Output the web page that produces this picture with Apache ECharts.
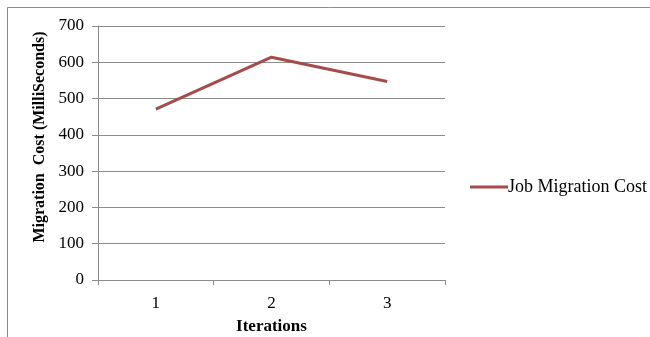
<!DOCTYPE html>
<html><head><meta charset="utf-8">
<script src="https://cdn.jsdelivr.net/npm/echarts@6/dist/echarts.min.js"></script>
<style>html,body{margin:0;padding:0;background:#fff}#c{width:650px;height:337px}</style>
</head><body><div id="c"></div>
<script>
const categories = ['1', '2', '3'];
const seriesName = 'Job Migration Cost';
const values = [471, 614, 547];
const yTicks = [0, 100, 200, 300, 400, 500, 600, 700];

const chart = echarts.init(document.getElementById('c'), null, {renderer: 'canvas'});
const font = 'Liberation Serif';
chart.setOption({
  animation: false,
  backgroundColor: '#fff',
  graphic: [{type: 'rect', shape: {x: 7.5, y: 7.5, width: 700, height: 400}, style: {fill: 'none', stroke: '#8c8c8c', lineWidth: 1}, silent: true}],
  grid: {left: 98, top: 26, width: 347, height: 254, containLabel: false, outerBoundsMode: 'none'},
  legend: {
    data: [seriesName], left: 465, top: 173, icon: 'rect', itemWidth: 38, itemHeight: 3, itemGap: 0,
    textStyle: {fontFamily: font, fontSize: 18, color: '#000', padding: [0, 0, 0, -5]}
  },
  xAxis: {
    type: 'category', data: categories, boundaryGap: true,
    axisLine: {lineStyle: {color: '#8c8c8c'}},
    axisTick: {show: true, length: 5, lineStyle: {color: '#8c8c8c'}},
    axisLabel: {fontFamily: font, fontSize: 17, color: '#000', margin: 15},
    name: 'Iterations', nameLocation: 'middle', nameGap: 38,
    nameTextStyle: {fontFamily: font, fontSize: 17, fontWeight: 'bold', color: '#000'}
  },
  yAxis: {
    type: 'value', min: yTicks[0], max: yTicks[yTicks.length - 1], interval: 100,
    axisLine: {show: true, lineStyle: {color: '#8c8c8c'}},
    axisTick: {show: true, length: 6, lineStyle: {color: '#8c8c8c'}},
    splitLine: {lineStyle: {color: '#8c8c8c'}},
    axisLabel: {fontFamily: font, fontSize: 17, color: '#000', margin: 14},
    name: 'Migration  Cost (MilliSeconds)', nameLocation: 'middle', nameGap: 48,
    nameTextStyle: {fontFamily: font, fontSize: 16, fontWeight: 'bold', color: '#000', padding: [0, 0, 0, 32]}
  },
  series: [{
    name: seriesName, type: 'line', data: values, symbol: 'none',
    lineStyle: {color: '#a54c4a', width: 3}, itemStyle: {color: '#a54c4a'}
  }]
});
</script></body></html>
